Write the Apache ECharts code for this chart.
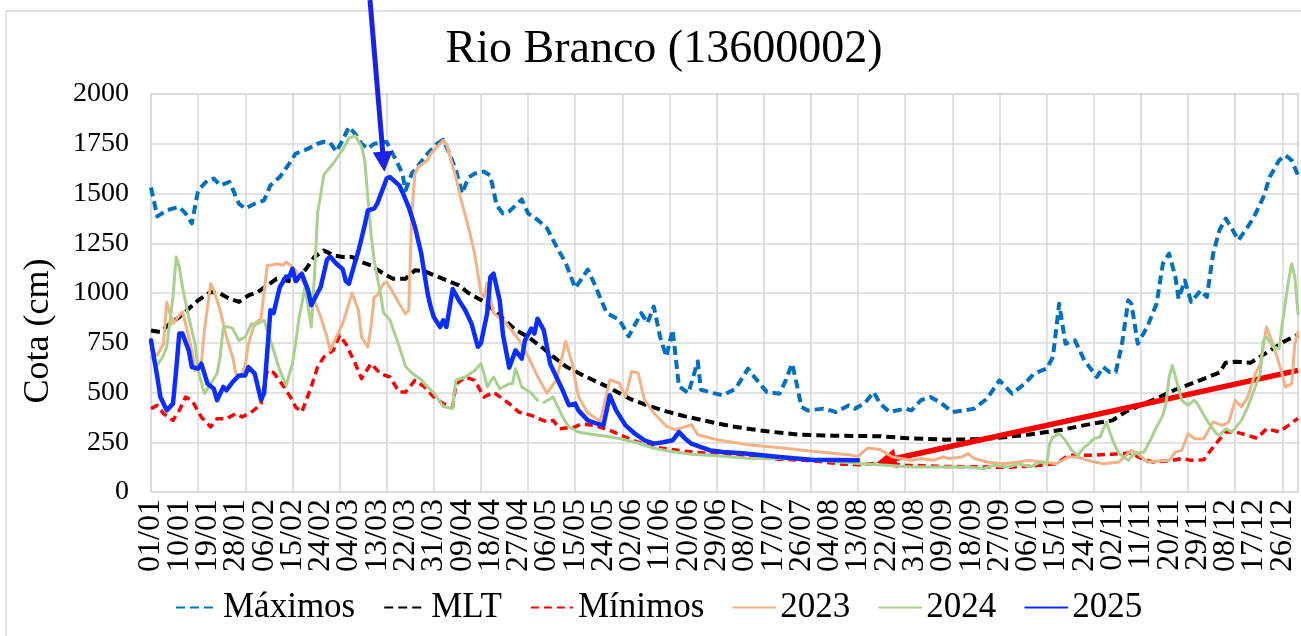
<!DOCTYPE html>
<html><head><meta charset="utf-8">
<script src="https://cdn.jsdelivr.net/npm/echarts@6/dist/echarts.min.js"></script>
<style>html,body{margin:0;padding:0;background:#fff}#c{width:1301px;height:636px}</style>
</head><body><div id="c"></div><script>
// Calendar (leap year, 366 days) used as category axis
var monthDays = [31,29,31,30,31,30,31,31,30,31,30,31];
var categories = [];
monthDays.forEach(function (n, m) {
  for (var d = 1; d <= n; d++) {
    categories.push((d < 10 ? '0' : '') + d + '/' + (m < 9 ? '0' : '') + (m + 1));
  }
});
var labelEvery = 9;   // a date label every 9 days
var gridEvery = 15;   // a vertical gridline every 15 days
var yTicks = [0, 250, 500, 750, 1000, 1250, 1500, 1750, 2000];
var seriesNames = ['Máximos', 'MLT', 'Mínimos', '2023', '2024', '2025'];

// [day index, cota (cm)]
var maximos = [[0,1530],[2,1385],[5,1415],[7,1425],[9,1432],[11,1400],[13,1350],[15,1516],[18,1566],[20,1575],[22,1541],[25,1558],[28,1449],[30,1424],[33,1449],[36,1466],[38,1541],[41,1583],[44,1650],[46,1700],[50,1725],[53,1750],[55,1760],[57,1755],[59,1710],[61,1770],[63,1834],[65,1800],[67,1750],[69,1725],[71,1750],[75,1759],[78,1667],[80,1600],[81,1516],[83,1600],[85,1640],[88,1700],[91,1750],[93,1770],[95,1700],[97,1620],[99,1500],[101,1580],[103,1600],[106,1610],[108,1590],[110,1440],[112,1400],[114,1410],[118,1470],[120,1400],[123,1368],[126,1326],[129,1234],[132,1150],[135,1025],[139,1117],[141,1050],[145,899],[149,866],[152,782],[156,899],[158,849],[160,932],[162,780],[164,681],[166,815],[168,531],[171,497],[174,656],[175,514],[179,497],[182,486],[186,519],[190,620],[192,578],[196,502],[200,494],[202,561],[204,645],[205,578],[207,427],[209,410],[214,419],[218,402],[222,435],[224,419],[227,444],[230,502],[232,444],[235,402],[240,419],[242,410],[245,461],[248,477],[251,452],[255,402],[259,410],[262,419],[266,469],[270,561],[274,494],[278,544],[281,595],[285,620],[287,678],[289,946],[291,745],[294,762],[297,662],[301,578],[303,628],[305,603],[307,603],[309,745],[311,963],[312,946],[314,745],[317,829],[320,946],[322,1147],[324,1198],[326,1080],[327,971],[329,1063],[331,955],[334,1013],[336,980],[338,1198],[340,1315],[342,1374],[344,1323],[346,1265],[349,1332],[351,1382],[354,1482],[356,1583],[359,1667],[361,1692],[363,1667],[365,1591]];
var mlt = [[0,812],[3,804],[6,846],[9,879],[12,921],[15,963],[19,1005],[22,997],[25,971],[28,955],[31,988],[34,1005],[37,1038],[40,1072],[43,1063],[46,1055],[49,1114],[52,1181],[55,1214],[58,1190],[61,1181],[64,1181],[67,1156],[70,1139],[74,1097],[77,1072],[81,1072],[84,1114],[87,1110],[90,1090],[94,1064],[98,1038],[101,1000],[105,965],[108,930],[112,871],[116,815],[120,779],[124,732],[128,680],[132,631],[137,590],[141,560],[145,531],[153,464],[158,435],[164,405],[170,380],[175,363],[180,345],[185,330],[190,318],[196,305],[206,288],[217,283],[232,280],[240,271],[253,263],[262,265],[269,271],[279,288],[290,313],[300,345],[306,360],[310,402],[314,430],[320,470],[326,515],[331,544],[336,575],[340,600],[342,650],[345,655],[350,650],[353,680],[357,720],[361,760],[365,790]];
var minimos = [[0,419],[2,435],[4,394],[7,360],[9,410],[11,477],[13,461],[16,377],[19,327],[21,368],[24,368],[27,394],[29,377],[32,402],[34,427],[35,444],[37,611],[39,600],[42,536],[45,461],[46,427],[48,402],[51,528],[53,628],[55,678],[58,712],[60,787],[62,745],[65,645],[67,570],[70,645],[73,595],[76,578],[79,502],[81,502],[84,561],[87,528],[90,477],[93,444],[96,427],[97,540],[100,578],[103,561],[106,477],[109,502],[114,444],[117,402],[121,385],[126,352],[128,360],[130,318],[135,327],[137,343],[141,335],[146,310],[152,268],[155,251],[160,225],[170,205],[180,190],[190,175],[200,165],[210,158],[220,140],[226,137],[232,146],[240,135],[250,129],[260,127],[272,124],[280,130],[288,142],[292,185],[300,185],[306,190],[312,196],[316,162],[319,151],[325,159],[328,168],[331,159],[335,162],[338,226],[342,302],[345,302],[349,285],[352,270],[355,318],[359,302],[362,335],[365,370]];
var y2023 = [[0,712],[2,687],[4,745],[5,955],[7,846],[9,888],[10,905],[11,846],[13,712],[14,611],[16,645],[17,812],[19,1047],[20,1013],[22,913],[24,779],[26,678],[27,595],[28,578],[29,595],[30,637],[31,745],[33,846],[35,871],[37,1139],[38,1139],[40,1147],[42,1139],[43,1156],[45,1131],[46,1114],[48,1063],[50,1013],[52,963],[54,879],[56,779],[57,712],[58,745],[61,846],[64,1000],[66,913],[67,779],[69,729],[70,829],[71,980],[72,988],[74,1047],[75,1055],[76,1030],[79,946],[81,896],[82,913],[83,1400],[84,1600],[85,1633],[88,1667],[89,1700],[91,1734],[93,1767],[94,1750],[97,1583],[99,1449],[101,1332],[103,1198],[105,1000],[106,980],[107,1050],[109,899],[113,849],[117,765],[120,681],[123,581],[126,497],[129,564],[132,757],[134,648],[136,480],[139,397],[143,355],[146,564],[149,547],[151,480],[153,606],[155,598],[157,464],[160,397],[164,330],[167,313],[172,338],[174,288],[180,263],[190,238],[201,221],[211,204],[222,187],[225,179],[228,221],[232,213],[236,176],[242,159],[245,168],[249,159],[252,176],[254,168],[258,176],[260,193],[262,168],[266,151],[271,142],[276,151],[279,159],[284,151],[288,142],[292,176],[295,176],[298,159],[303,142],[308,151],[312,209],[314,193],[317,151],[324,159],[326,201],[328,209],[330,293],[332,268],[335,268],[338,352],[341,335],[343,352],[345,461],[347,427],[349,477],[351,578],[353,645],[355,829],[357,745],[359,645],[361,528],[363,544],[364,745],[365,804]];
var y2024 = [[0,678],[2,637],[4,687],[5,729],[7,980],[8,1181],[9,1131],[10,1030],[12,879],[14,745],[15,611],[17,494],[19,544],[21,595],[22,678],[23,829],[25,829],[26,821],[28,762],[30,779],[32,846],[33,838],[36,863],[37,812],[39,712],[41,611],[43,536],[45,645],[46,745],[47,863],[49,1030],[50,930],[51,829],[52,1080],[53,1400],[55,1594],[58,1652],[61,1719],[63,1778],[65,1790],[67,1736],[68,1667],[70,1300],[71,1164],[73,999],[74,900],[76,865],[79,731],[81,631],[83,598],[86,564],[88,528],[90,497],[93,430],[96,420],[97,561],[100,578],[103,611],[105,645],[106,595],[107,528],[109,578],[111,519],[114,544],[115,544],[116,620],[118,528],[121,497],[123,461],[124,null],[125,450],[128,477],[131,377],[133,327],[136,301],[140,290],[145,280],[150,265],[155,246],[160,220],[165,205],[172,190],[180,182],[190,170],[200,168],[210,165],[220,150],[226,142],[234,134],[242,126],[250,126],[260,126],[265,117],[268,134],[273,126],[276,142],[280,126],[283,151],[285,142],[286,243],[287,276],[289,293],[291,260],[293,209],[295,184],[297,226],[298,235],[300,268],[302,276],[304,352],[306,260],[308,193],[311,159],[313,193],[316,201],[318,260],[320,327],[322,385],[323,444],[324,578],[325,636],[326,578],[328,461],[330,435],[332,461],[333,444],[336,360],[339,293],[340,285],[342,318],[344,302],[347,360],[349,427],[351,511],[353,595],[354,762],[355,779],[357,729],[359,720],[360,846],[362,1063],[363,1147],[364,1080],[365,896]];
var y2025 = [[0,762],[2,578],[3,477],[5,410],[7,444],[8,611],[9,796],[10,796],[12,712],[13,628],[15,620],[16,645],[17,595],[18,544],[20,519],[21,461],[23,528],[24,511],[26,553],[28,586],[30,586],[31,628],[33,595],[35,464],[36,497],[38,913],[39,899],[41,1030],[43,1083],[44,1080],[45,1122],[46,1060],[47,1080],[48,1097],[50,1013],[51,938],[53,1000],[54,1030],[56,1167],[57,1183],[59,1147],[61,1120],[62,1060],[63,1047],[65,1160],[66,1210],[68,1340],[69,1415],[71,1424],[72,1449],[74,1533],[75,1575],[76,1583],[79,1541],[80,1508],[82,1432],[84,1332],[86,1198],[88,1000],[89,930],[90,879],[92,829],[93,863],[94,829],[96,1020],[98,963],[100,913],[102,846],[104,730],[105,748],[107,900],[108,1080],[109,1097],[111,960],[112,790],[114,625],[116,712],[118,670],[119,762],[121,821],[122,796],[123,871],[125,812],[127,645],[129,578],[131,511],[133,436],[135,444],[136,410],[139,360],[142,343],[144,335],[146,486],[148,410],[151,335],[154,293],[157,260],[160,243],[163,250],[166,260],[168,301],[170,268],[172,243],[175,226],[178,209],[182,201],[189,193],[200,176],[210,162],[225,159]];

// annotation arrows: [tail, head] positions
var blueArrowHead = [74, 1660];
var redArrow = [[365, 611], [234, 158]];

var FONT = 'Liberation Serif';
var chart = echarts.init(document.getElementById('c'), null, {renderer: 'canvas'});

function lineSeries(name, data, color, width, dash, z) {
  return {
    name: name, type: 'line', data: data, symbol: 'none', showSymbol: false,
    connectNulls: false, smooth: false, animation: false, z: z,
    lineStyle: {color: color, width: width, type: dash || 'solid', cap: dash ? 'butt' : 'round', join: 'round'},
    itemStyle: {color: color},
    emphasis: {disabled: true}
  };
}

var series = [
  lineSeries(seriesNames[0], maximos, '#0070C0', 4, [9, 5], 2),
  lineSeries(seriesNames[1], mlt, '#000000', 4, [9, 5], 3),
  lineSeries(seriesNames[2], minimos, '#FF0000', 3.5, [8, 5], 4),
  lineSeries(seriesNames[3], y2023, '#F4B183', 3, null, 5),
  lineSeries(seriesNames[4], y2024, '#A9D18E', 3, null, 6),
  lineSeries(seriesNames[5], y2025, '#0A2EFF', 4.5, null, 7)
];
series[5].clip = false;
series[5].markLine = {
  silent: true, animation: false, symbol: ['none', 'triangle'], symbolSize: [20, 20],
  label: {show: false}, emphasis: {disabled: true},
  data: [
    [{x: 370, y: 0, lineStyle: {color: '#1A22E8', width: 5, type: 'solid'}}, {coord: blueArrowHead}],
    [{coord: redArrow[0], lineStyle: {color: '#FF0000', width: 5.5, type: 'solid'}}, {coord: redArrow[1]}]
  ]
};

chart.setOption({
  backgroundColor: '#ffffff',
  animation: false,
  title: {
    text: 'Rio Branco (13600002)', left: 659, top: 22, textAlign: 'center',
    textStyle: {fontFamily: FONT, fontSize: 46, fontWeight: 'normal', color: '#000'}
  },
  legend: {
    data: seriesNames, bottom: 6, left: 170, itemWidth: 42, itemHeight: 14, itemGap: 28,
    itemStyle: {opacity: 0},
    textStyle: {fontFamily: FONT, fontSize: 35, color: '#000'}, selectedMode: false
  },
  grid: {left: 151, right: 3, top: 94, bottom: 144, show: true, borderColor: '#D9D9D9', borderWidth: 1.5},
  xAxis: {
    type: 'category', data: categories, boundaryGap: false,
    axisLine: {show: false}, axisTick: {show: false},
    axisLabel: {
      interval: 0, hideOverlap: false,
      formatter: function (value, index) { return index % labelEvery === 0 ? value : ''; },
      rotate: 90, margin: 7, fontFamily: FONT, fontSize: 32, lineHeight: 22, color: '#000'
    },
    splitLine: {show: true, interval: gridEvery - 1, lineStyle: {color: '#D9D9D9', width: 1.5}}
  },
  yAxis: {
    type: 'value', min: yTicks[0], max: yTicks[yTicks.length - 1], interval: yTicks[1] - yTicks[0],
    axisLine: {show: false}, axisTick: {show: false},
    axisLabel: {margin: 22, fontFamily: FONT, fontSize: 28, color: '#000', formatter: function (v) { return String(v); }},
    splitLine: {show: true, lineStyle: {color: '#D9D9D9', width: 1.5}}
  },
  graphic: [
    {type: 'rect', silent: true, z: -1, shape: {x: 6, y: 11, width: 1400, height: 700},
     style: {fill: 'none', stroke: '#D9D9D9', lineWidth: 1.5}},
    {type: 'text', silent: true, x: 39, y: 331, rotation: Math.PI / 2,
     style: {text: 'Cota (cm)', fontFamily: FONT, fontSize: 36, fill: '#000', textAlign: 'center', textVerticalAlign: 'middle'}}
  ],
  series: series
});
</script></body></html>
